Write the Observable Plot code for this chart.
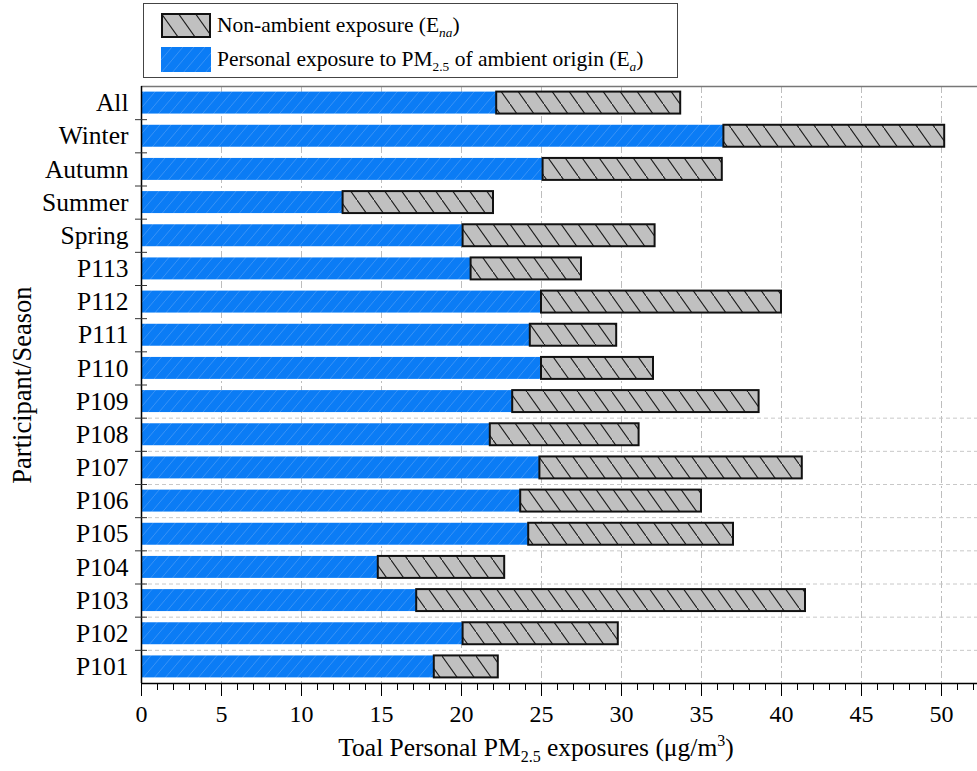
<!DOCTYPE html>
<html>
<head>
<meta charset="utf-8">
<script src="https://cdn.jsdelivr.net/npm/d3@7"></script>
<script src="https://cdn.jsdelivr.net/npm/@observablehq/plot@0.6"></script>
<style>
  body { margin: 0; background: #fff; font-family: "Liberation Serif", "Times New Roman", serif; }
  #wrap { position: relative; width: 977px; height: 771px; overflow: hidden; background: #fff; }
  #legendArea { position: relative; width: 977px; height: 80px; }
  #legend { position: absolute; left: 143px; top: 3px; width: 533px; height: 73px; border: 1.5px solid #444; background: #fff; }
  .lrow { position: absolute; left: 17px; height: 25px; display: flex; align-items: center; font-size: 21.5px; color: #000; white-space: nowrap; }
  .lrow svg { margin-right: 6px; flex: none; }
  .sub { font-size: 0.62em; position: relative; top: 0.35em; line-height: 0; }
</style>
</head>
<body>
<svg width="0" height="0" style="position:absolute">
  <defs>
    <pattern id="blueHatch" patternUnits="userSpaceOnUse" width="11" height="13">
      <rect width="11" height="13" fill="#0b7cf5"></rect>
      <line x1="0" y1="13" x2="11" y2="0" stroke="#3d95f6" stroke-width="0.9"></line>
    </pattern>
    <pattern id="greyHatch" patternUnits="userSpaceOnUse" width="17" height="24">
      <rect width="17" height="24" fill="#c0c0c0"></rect>
      <line x1="-1" y1="-1.4" x2="18" y2="25.4" stroke="#1a1a1a" stroke-width="1.1"></line>
    </pattern>
  </defs>
</svg>
<div id="wrap">
  <div id="legendArea">
    <div id="legend">
      <div class="lrow" style="top:9px">
        <svg width="50" height="25"><rect x="1" y="1" width="48" height="23" fill="url(#greyHatch)" stroke="#111" stroke-width="2"></rect></svg>
        <span>Non-ambient exposure (E<span class="sub"><i>na</i></span>)</span>
      </div>
      <div class="lrow" style="top:43px">
        <svg width="50" height="25"><rect x="0" y="0" width="50" height="25" fill="url(#blueHatch)"></rect></svg>
        <span>Personal exposure to PM<span class="sub">2.5</span> of ambient origin (E<span class="sub"><i>a</i></span>)</span>
      </div>
    </div>
  </div>
  <div id="chart"></div>
</div>
<script>
// Categories, top to bottom
const categories = ["All", "Winter", "Autumn", "Summer", "Spring", "P113", "P112", "P111", "P110",
  "P109", "P108", "P107", "P106", "P105", "P104", "P103", "P102", "P101"];
// Personal exposure to PM2.5 of ambient origin (Ea), µg/m3
const ambient = [22.2, 36.4, 25.1, 12.6, 20.1, 20.6, 25.0, 24.3, 25.0,
  23.2, 21.8, 24.9, 23.7, 24.2, 14.8, 17.2, 20.1, 18.3];
// Non-ambient exposure (Ena), µg/m3
const nonAmbient = [11.5, 13.8, 11.2, 9.4, 12.0, 6.9, 15.0, 5.4, 7.0,
  15.4, 9.3, 16.4, 11.3, 12.8, 7.9, 24.3, 9.7, 4.0];
// Axis ticks
const xMajorTicks = [0, 5, 10, 15, 20, 25, 30, 35, 40, 45, 50];
const xMinorTicks = d3.range(0, 53, 1);
const xGridLines = [5, 10, 15, 20, 25, 30, 35, 40, 45, 50];
// Category rows after which a dashed horizontal grid line is drawn
const hGridAfter = ["P109", "P108", "P107", "P106", "P105", "P104", "P103", "P102"];

const rows = categories.map((c, i) => ({cat: c, row: i, rowEnd: i + 1, ea: ambient[i], total: ambient[i] + nonAmbient[i]}));
const rowBoundaries = d3.range(1, categories.length);
const rowCenters = categories.map((c, i) => i + 0.5);
const hGrid = hGridAfter.map(c => categories.indexOf(c) + 1);

const serif = '"Liberation Serif", "Times New Roman", serif';
const inset = 5.6;

const plot = Plot.plot({
  width: 977,
  height: 691,
  marginTop: 6,
  marginBottom: 88,
  marginLeft: 141,
  marginRight: 0,
  style: {fontFamily: serif, background: "white", color: "#000", overflow: "visible"},
  x: {domain: [0, 52.25], axis: null},
  y: {domain: [0, categories.length], reverse: true, axis: null},
  marks: [
    Plot.ruleX(xGridLines, {stroke: "#bdbdbd", strokeDasharray: "7,3,2,3", strokeWidth: 1}),
    Plot.ruleY(hGrid, {stroke: "#c8c8c8", strokeDasharray: "4,3", strokeWidth: 1}),
    Plot.rect(rows, {x1: 0, x2: "ea", y1: "row", y2: "rowEnd", insetTop: inset, insetBottom: inset,
      fill: "url(#blueHatch)"}),
    Plot.rect(rows, {x1: "ea", x2: "total", y1: "row", y2: "rowEnd", insetTop: inset, insetBottom: inset,
      fill: "url(#greyHatch)", stroke: "#111", strokeWidth: 2}),
    Plot.ruleY([0], {stroke: "#777", strokeWidth: 1.5}),
    Plot.ruleY([categories.length], {stroke: "#000", strokeWidth: 1.5}),
    Plot.ruleX([0], {stroke: "#000", strokeWidth: 1.5}),
    Plot.axisX(xMinorTicks, {anchor: "bottom", tickSize: 7, tickFormat: () => "", label: null, color: "#000"}),
    Plot.axisX(xMajorTicks, {anchor: "bottom", tickSize: 13, tickPadding: 8, fontSize: 24, label: null, color: "#000",
      tickFormat: d => String(d)}),
    Plot.axisY(rowBoundaries, {anchor: "left", tickSize: 12, dx: 6, tickFormat: () => "", label: null, color: "#333"}),
    Plot.axisY(rowCenters, {anchor: "left", tickSize: 0, tickPadding: 13, fontSize: 25.5, label: null, color: "#000",
      tickFormat: v => categories[Math.floor(v)]})
  ]
});

document.getElementById("chart").appendChild(plot);

// Axis titles with sub/superscripts
const svg = d3.select(plot);
const xt = svg.append("text").attr("x", 536).attr("y", 676).attr("text-anchor", "middle")
  .attr("fill", "#000").style("font-size", "25.5px").style("font-family", serif);
xt.append("tspan").text("Toal Personal PM");
xt.append("tspan").attr("dy", 6).style("font-size", "16px").text("2.5");
xt.append("tspan").attr("dy", -6).text(" exposures (\u03bcg/m");
xt.append("tspan").attr("dy", -10).style("font-size", "16px").text("3");
xt.append("tspan").attr("dy", 10).text(")");

svg.append("text").attr("transform", "translate(31,305) rotate(-90)").attr("text-anchor", "middle")
  .attr("fill", "#000").style("font-size", "26.5px").style("font-family", serif)
  .text("Participant/Season");
</script>
</body>
</html>
